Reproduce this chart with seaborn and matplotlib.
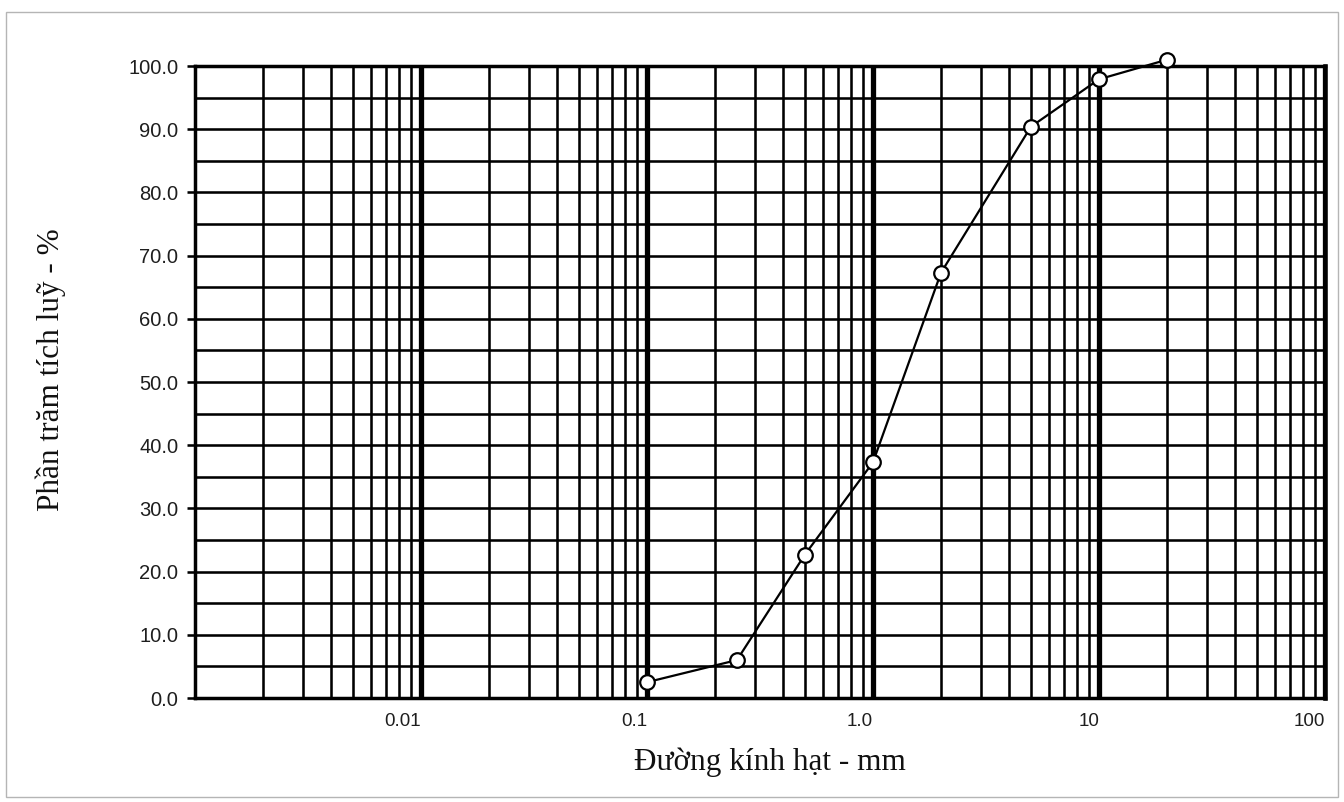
import matplotlib
matplotlib.use("Agg")
import matplotlib.pyplot as plt
from matplotlib.ticker import LogLocator, MultipleLocator, NullFormatter
from matplotlib.patches import Rectangle
import seaborn as sns
import pandas as pd

# Sieve analysis: grain size (mm) vs cumulative percent
sizes_mm = [0.1, 0.25, 0.5, 1.0, 2.0, 5.0, 10.0, 20.0]
cumulative_pct = [2.5, 6.0, 22.7, 37.3, 67.3, 90.4, 97.9, 101.0]

x_tick_values = [0.01, 0.1, 1.0, 10.0, 100.0]
x_tick_labels = ["0.01", "0.1", "1.0", "10", "100"]
y_tick_values = [0, 10, 20, 30, 40, 50, 60, 70, 80, 90, 100]
y_tick_labels = ["0.0", "10.0", "20.0", "30.0", "40.0", "50.0",
                 "60.0", "70.0", "80.0", "90.0", "100.0"]

x_label = "Đường kính hạt - mm"
y_label = "Phần trăm tích luỹ - %"

sns.set_theme(style="white")
plt.rcParams["font.family"] = ["Liberation Sans", "DejaVu Sans"]

W, H = 1344, 802
fig = plt.figure(figsize=(W / 100, H / 100), dpi=100, facecolor="white")
ax = fig.add_axes([195 / W, 1 - 698 / H, (1325 - 195) / W, (698 - 66) / H])

df = pd.DataFrame({"size": sizes_mm, "pct": cumulative_pct})
sns.lineplot(data=df, x="size", y="pct", ax=ax, color="black", lw=1.6,
             marker="o", markersize=10.5, markerfacecolor="white",
             markeredgecolor="black", markeredgewidth=1.6,
             sort=False, clip_on=False, zorder=5)

ax.set_xscale("log")
ax.set_xlim(0.001, 100)
ax.set_ylim(0, 100)

# log-paper grid: thick decade lines, thin 2..9 lines
ax.xaxis.set_minor_locator(LogLocator(base=10, subs=range(2, 10), numticks=20))
ax.xaxis.set_minor_formatter(NullFormatter())
ax.set_xticks(x_tick_values, labels=x_tick_labels)
for lbl in ax.get_xticklabels():
    lbl.set_horizontalalignment("right")
ax.set_yticks(y_tick_values, labels=y_tick_labels)
ax.yaxis.set_minor_locator(MultipleLocator(5))

ax.grid(which="major", axis="x", color="black", lw=3.8)
ax.grid(which="minor", axis="x", color="black", lw=1.85)
ax.grid(which="both", axis="y", color="black", lw=1.85)
ax.set_axisbelow(True)

ax.tick_params(axis="x", which="both", length=0, pad=11, labelsize=13.5,
               labelcolor="#1e1e1e")
ax.tick_params(axis="y", which="major", length=6, width=1.85, color="black",
               direction="out", left=True, pad=6, labelsize=14.5,
               labelcolor="#1e1e1e")
ax.tick_params(axis="y", which="minor", length=0)

for side, spine in ax.spines.items():
    spine.set_color("black")
    spine.set_linewidth(2.5)
ax.spines["right"].set_linewidth(3.3)

serif = ["Liberation Serif", "DejaVu Serif"]
ax.set_xlabel(x_label, family=serif, fontsize=22.5, color="#111111")
ax.set_ylabel(y_label, family=serif, fontsize=22.5, color="#111111")
ax.xaxis.set_label_coords((770 - 195) / 1130, -0.078)
ax.yaxis.set_label_coords(-0.114, 0.519)

# thin page frame around the chart
fig.patches.append(Rectangle((6 / W, 1 - 797 / H), (1338 - 6) / W, (797 - 12) / H,
                             transform=fig.transFigure, fill=False,
                             edgecolor="#b5b5b5", lw=1.0))

fig.savefig("out.png", dpi=100, facecolor="white")
